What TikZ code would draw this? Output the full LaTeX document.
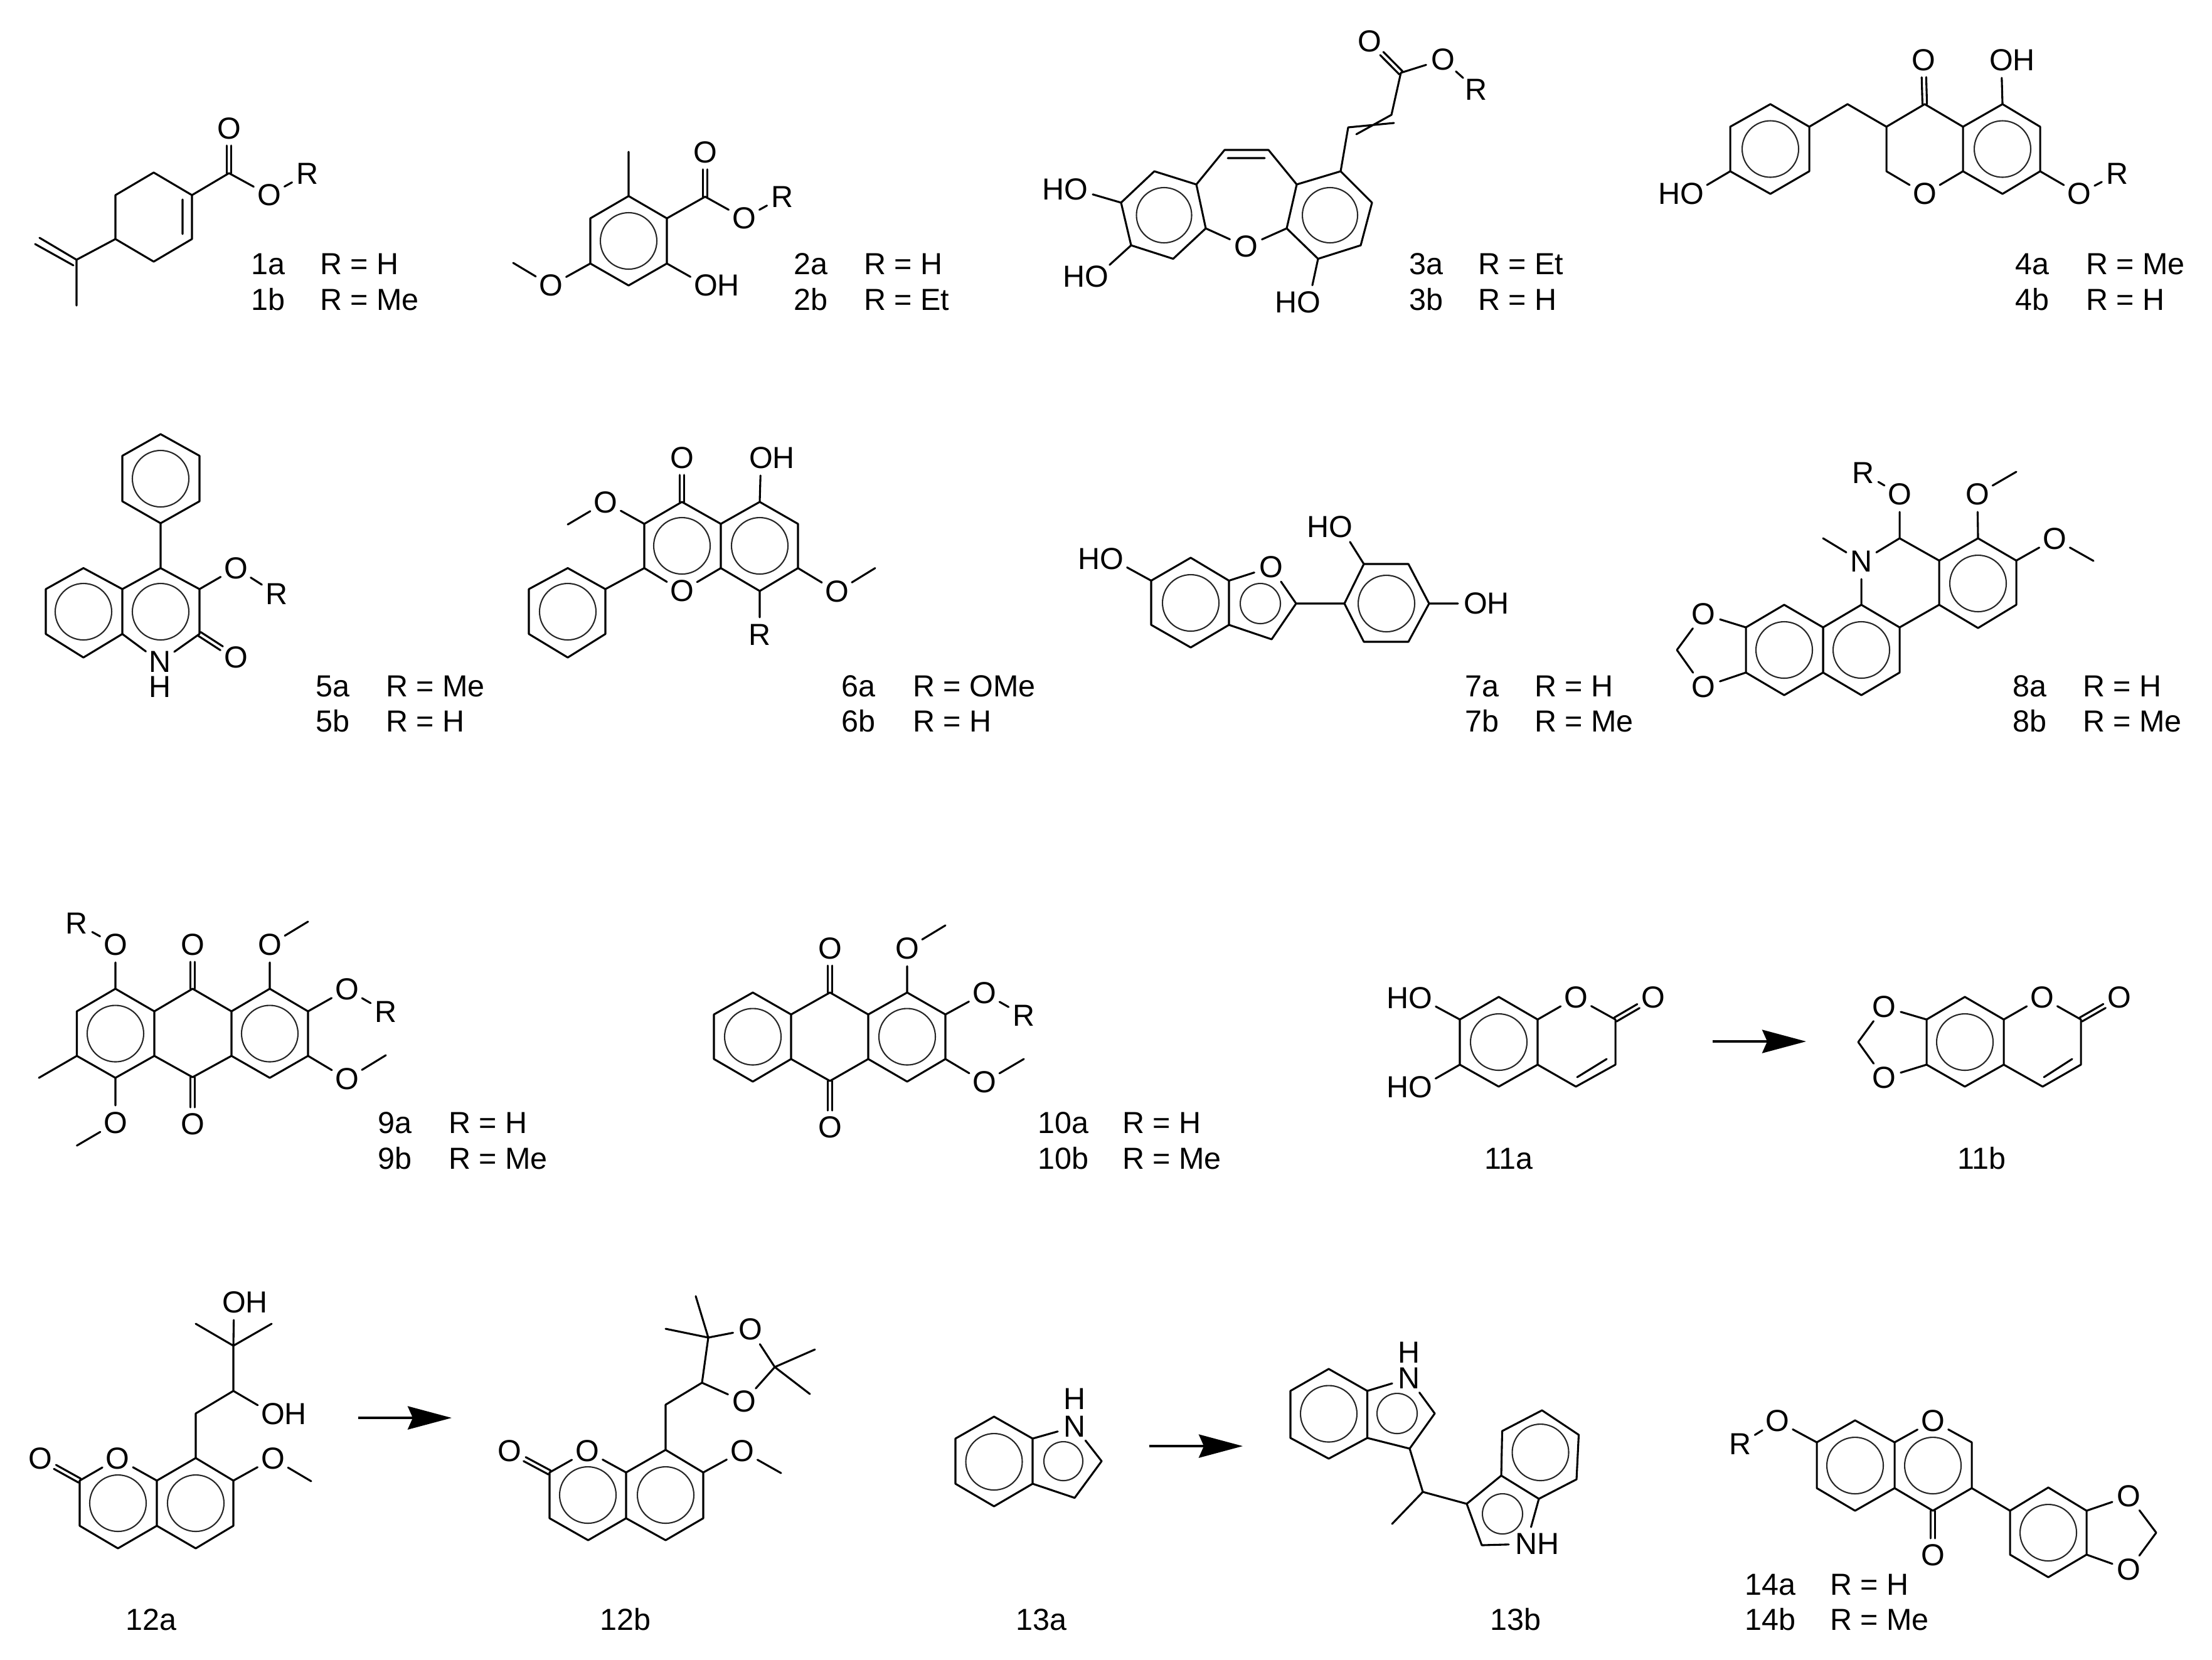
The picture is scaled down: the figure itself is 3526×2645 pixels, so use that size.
\documentclass[tikz,border=0pt]{standalone}
\usepackage{fontspec}
\setmainfont{Liberation Sans}
\usetikzlibrary{calc,arrows.meta}
\tikzset{
  bond/.style={line width=0.62pt,line join=round,line cap=round,black},
  aromc/.style={line width=0.42pt,black!85},
  atom/.style={circle,inner sep=0pt,minimum size=10.8pt,font=\fontsize{9.7}{11}\selectfont,text=black},
  lab/.style={anchor=base west,inner sep=0pt,xshift=-0.75pt,font=\fontsize{9.7}{11}\selectfont,text=black},
  labc/.style={anchor=base,inner sep=0pt,font=\fontsize{9.7}{11}\selectfont,text=black},
  rxn/.style={line width=0.8pt,black,-{Stealth[length=14pt,width=7.4pt,inset=1.6pt]}}
}
\newcommand\pts[2]{\foreach \n/\x/\y in {#2} {\coordinate (#1\n) at (\x,\y);}}
\newcommand\atom[4]{\node[atom] (#1) at (#2,#3) {#4};}
\newcommand\lab[4]{\node[lab] (#1) at (#2,#3) {#4};}
\newcommand\labc[4]{\node[labc] (#1) at (#2,#3) {#4};}
\newcommand\arom[2]{\draw[aromc] (#1) circle[radius=#2];}
\newcommand\dbl[2]{%
  \draw[bond,shorten >=5.4pt] ($(#1)!0.72pt!90:(#2)$) -- ($(#2)!0.72pt!-90:(#1)$);
  \draw[bond,shorten >=5.4pt] ($(#1)!0.72pt!-90:(#2)$) -- ($(#2)!0.72pt!90:(#1)$);}
\newcommand\hexr[6]{\draw[bond] (#1)--(#2)--(#3)--(#4)--(#5)--(#6)--cycle;}
\begin{document}
\begin{tikzpicture}[x=0.2pt,y=-0.2pt]
\useasboundingbox (0,0) rectangle (3526,2645);
\fill[white] (0,0) rectangle (3526,2645);

% ---------- 1
\pts{a}{a/245/275,b/306/311,c/306/381,d/245/417,e/184/381,f/184/311,g/365/276,h/122/414,i/122/487,j/63/379,k/117/423,l/56/389,m/291/318,n/291/373}
\atom{a1}{365}{205}{O}\atom{a2}{429}{311}{O}\atom{a3}{490}{277}{R}
\hexr{aa}{ab}{ac}{ad}{ae}{af}
\draw[bond] (am)--(an) (ab)--(ag) (ag)--(a2) (a2)--(a3) (ae)--(ah)--(ai) (ah)--(aj) (ak)--(al);
\dbl{ag}{a1}
\lab{t1a}{403}{437}{1a}\lab{t1b}{403}{494}{1b}\lab{u1a}{513}{437}{R = H}\lab{u1b}{513}{494}{R = Me}

% ---------- 2
\pts{b}{a/1002/312.5,b/1063/348,c/1063/420,d/1002/455,e/941/420,f/941/348,g/1002/384,h/1002/242,i/1124/313.5,j/818/419}
\atom{b1}{1124}{243}{O}\atom{b2}{1186}{348}{O}\atom{b3}{1247}{314}{R}\atom{b4}{878}{455}{O}\atom{b5}{1125}{455}{O\rlap{H}}
\hexr{ba}{bb}{bc}{bd}{be}{bf}\arom{bg}{45}
\draw[bond] (ba)--(bh) (bb)--(bi) (bi)--(b2) (b2)--(b3) (be)--(b4) (b4)--(bj) (bc)--(b5);
\dbl{bi}{b1}
\lab{t2a}{1268}{437}{2a}\lab{t2b}{1268}{494}{2b}\lab{u2a}{1380}{437}{R = H}\lab{u2b}{1380}{494}{R = Et}

% ---------- 3
\pts{c}{a/1840/273,b/1907/294,c/1922/364,d/1870/412.5,e/1803/391,f/1787/323,g/1855.5/343,h/2137/273,i/2187/323,j/2169/391,k/2101/412.5,l/2051/364,m/2067/294,n/2120/343,o/1952/239,p/2022/239,q/1957/252,r/2016/252,s/2149/203,t/2222/196,u/2162/214,v/2218/183,w/2233/116}
\atom{c1}{2183.5}{66}{O}\atom{c2}{2300}{95}{O}\atom{c3}{2353}{143}{R}\atom{c4}{1986}{393}{O}\atom{c5}{1715}{302}{\llap{H}O}\atom{c6}{1748}{441}{\llap{H}O}\atom{c7}{2086}{482}{\llap{H}O}
\hexr{ca}{cb}{cc}{cd}{ce}{cf}\hexr{ch}{ci}{cj}{ck}{cl}{cm}
\arom{cg}{44}\arom{cn}{44}
\draw[bond] (cb)--(co)--(cp)--(cm) (cq)--(cr) (cc)--(c4) (c4)--(cl) (ch)--(cs)--(ct) (cu)--(cv)--(cw) (cw)--(c2) (c2)--(c3) (cf)--(c5) (ce)--(c6) (ck)--(c7);
\dbl{cw}{c1}
\lab{t3a}{2249}{437}{3a}\lab{t3b}{2249}{494}{3b}\lab{u3a}{2359}{437}{R = Et}\lab{u3b}{2359}{494}{R = H}

% ---------- 4
\pts{d}{a/2822/166,b/2884/202,c/2884/273,d/2822/309,e/2758/273,f/2758/202,g/2822/237.5,h/2945/166,i/3007/202,j/3068/166,k/3129/202,l/3129/273,m/3007/273,n/3192/166,o/3252/202,p/3252/273,q/3192/309,r/3192/237.5}
\atom{d1}{3066}{96}{O}\atom{d2}{3190}{96}{O\rlap{H}}\atom{d3}{3068}{309}{O}\atom{d4}{3314}{309}{O}\atom{d5}{3375}{277}{R}\atom{d6}{2697}{309}{\llap{H}O}
\hexr{da}{db}{dc}{dd}{de}{df}\hexr{dk}{dn}{do}{dp}{dq}{dl}
\arom{dg}{45}\arom{dr}{45}
\draw[bond] (db)--(dh)--(di)--(dj)--(dk) (di)--(dm) (dm)--(d3) (d3)--(dl) (dn)--(d2) (dp)--(d4) (d4)--(d5) (de)--(d6);
\dbl{dj}{d1}
\lab{t4a}{3215}{437}{4a}\lab{t4b}{3215}{494}{4b}\lab{u4a}{3328}{437}{R = Me}\lab{u4b}{3328}{494}{R = H}

% ---------- 5
\pts{e}{a/256/692,b/318/726.5,c/318/799,d/256/834,e/195/799,f/195/726.5,g/256/763,h/256/905.5,i/318/939,j/318/1010.5,l/195/1010.5,m/195/939,n/256/975,o/133/905.5,p/73/939,q/73/1010.5,r/133/1048,s/133/975}
\atom{e1}{255}{1055}{N}\atom{e2}{255}{1095}{H}\atom{e3}{376}{1048}{O}\atom{e4}{376}{905.5}{O}\atom{e5}{441}{947}{R}
\hexr{ea}{eb}{ec}{ed}{ee}{ef}\hexr{eo}{ep}{eq}{er}{el}{em}
\arom{eg}{45}\arom{en}{45}\arom{es}{45}
\draw[bond] (ed)--(eh)--(ei)--(ej) (eh)--(em) (el)--(e1) (e1)--(ej) (ei)--(e4) (e4)--(e5);
\dbl{ej}{e3}
\lab{t5a}{506}{1110}{5a}\lab{t5b}{506}{1166}{5b}\lab{u5a}{618}{1110}{R = Me}\lab{u5b}{618}{1166}{R = H}

% ---------- 6
\pts{f}{a/905/905.5,b/965/939,c/965/1010.5,d/905/1048,e/843/1010.5,f/843/939,g/905/975,h/1027/905.5,i/1027/835,j/1087/800,k/1149/835,l/1149/905.5,m/1087/870,n/1211/800,o/1272/835,p/1272/905.5,q/1211/942,r/1211/870,s/905/836,t/1395/905.5}
\atom{f1}{1087}{730}{O}\atom{f2}{1213}{730}{O\rlap{H}}\atom{f3}{965}{800.5}{O}\atom{f4}{1334}{943}{O}\atom{f5}{1211}{1012}{R}\atom{f6}{1087}{942}{O}
\hexr{fa}{fb}{fc}{fd}{fe}{ff}\hexr{fk}{fn}{fo}{fp}{fq}{fl}
\arom{fg}{45}\arom{fm}{45}\arom{fr}{45}
\draw[bond] (fb)--(fh)--(fi)--(fj)--(fk) (fh)--(f6) (f6)--(fl) (fn)--(f2) (fi)--(f3) (f3)--(fs) (fp)--(f4) (f4)--(ft) (fq)--(f5);
\dbl{fj}{f1}
\lab{t6a}{1344}{1110}{6a}\lab{t6b}{1344}{1166}{6b}\lab{u6a}{1458}{1110}{R = OMe}\lab{u6b}{1458}{1166}{R = H}

% ---------- 7
\pts{g}{a/1898/889,b/1959/925.5,c/1959/996,d/1898/1032,e/1835/996,f/1835/925.5,g/1898/961,h/2066/962,i/2027/1019,j/2009/962,k/2143/962,l/2174/899,m/2245/899,n/2278/962,o/2245/1023,p/2174/1023,q/2210/962}
\atom{g1}{2026}{904}{O}\atom{g2}{2137}{840}{\llap{H}O}\atom{g3}{2352}{962}{O\rlap{H}}\atom{g4}{1772}{891}{\llap{H}O}
\hexr{ga}{gb}{gc}{gd}{ge}{gf}\hexr{gk}{gl}{gm}{gn}{go}{gp}
\arom{gg}{45}\arom{gj}{32}\arom{gq}{45}
\draw[bond] (gb)--(g1) (g1)--(gh)--(gi)--(gc) (gh)--(gk) (gl)--(g2) (gn)--(g3) (gf)--(g4);
\lab{t7a}{2338}{1110}{7a}\lab{t7b}{2338}{1166}{7b}\lab{u7a}{2449}{1110}{R = H}\lab{u7b}{2449}{1166}{R = Me}

% ---------- 8
\pts{h}{a/3153/858,b/3214/893.5,c/3214/964,d/3153/1001,e/3091/964,f/3091/893.5,g/3153/930,h/3028/858,i/2967/964,j/3028/1000,k/3028/1072,l/2967/1108,m/2906/1072,n/2906/1000,o/2967/1036,p/2844/964,q/2783/1000,r/2783/1072,s/2844/1108,t/2844/1036,u/2906/858,v/3214/752,w/3337/894,x/2673/1036}
\atom{h1}{2967}{895}{N}\atom{h2}{3028}{788}{O}\atom{h3}{2970}{754}{R}\atom{h4}{3152}{788}{O}\atom{h5}{3275}{859}{O}\atom{h6}{2715}{979}{O}\atom{h7}{2715}{1095}{O}
\hexr{ha}{hb}{hc}{hd}{he}{hf}\hexr{hi}{hj}{hk}{hl}{hm}{hn}\hexr{hn}{hm}{hs}{hr}{hq}{hp}
\arom{hg}{45}\arom{ho}{45}\arom{ht}{45}
\draw[bond] (hf)--(hh) (he)--(hj) (hh)--(h1) (h1)--(hi) (h1)--(hu) (hh)--(h2) (h2)--(h3) (ha)--(h4) (h4)--(hv) (hb)--(h5) (h5)--(hw) (hq)--(h6) (h6)--(hx) (hx)--(h7) (h7)--(hr);
\lab{t8a}{3211}{1110}{8a}\lab{t8b}{3211}{1166}{8b}\lab{u8a}{3323}{1110}{R = H}\lab{u8b}{3323}{1166}{R = Me}

% ---------- 9
\pts{i}{a/184/1576,b/246/1612,c/246/1683,d/184/1718,e/122.5/1683,f/122.5/1612,g/184/1647.5,h/307/1576,i/369/1612,j/369/1683,k/307/1717,l/430/1576,m/491/1612,n/491/1683,o/430/1718,p/430/1647.5,q/491/1469,r/615/1682,s/122.5/1826,t/62/1718}
\atom{i1}{184}{1506}{O}\atom{i2}{122.5}{1472}{R}\atom{i3}{307}{1506}{O}\atom{i4}{430}{1506}{O}\atom{i5}{553}{1577}{O}\atom{i6}{615}{1613}{R}\atom{i7}{553}{1720}{O}\atom{i8}{307}{1792}{O}\atom{i9}{184}{1790}{O}
\hexr{ia}{ib}{ic}{id}{ie}{if}\hexr{il}{im}{in}{io}{ij}{ii}
\draw[bond] (ib)--(ih)--(ii) (ic)--(ik)--(ij) (ia)--(i1) (i1)--(i2) (il)--(i4) (i4)--(iq) (im)--(i5) (i5)--(i6) (in)--(i7) (i7)--(ir) (id)--(i9) (i9)--(is) (ie)--(it);
\arom{ig}{45}\arom{ip}{45}
\dbl{ih}{i3}\dbl{ik}{i8}
\lab{t9a}{605}{1806}{9a}\lab{t9b}{605}{1863}{9b}\lab{u9a}{718}{1806}{R = H}\lab{u9b}{718}{1863}{R = Me}

% ---------- 10
\pts{j}{a/1200/1582,b/1261/1617,c/1261/1688,d/1200/1724,e/1138/1688,f/1138/1617,g/1200/1652.5,h/1323/1582,i/1384/1617,j/1384/1688,k/1323/1723,l/1446/1582,m/1507/1617,n/1507/1688,o/1446/1724,p/1446/1652.5,q/1507/1475,r/1632/1688}
\atom{j1}{1323}{1512}{O}\atom{j2}{1446}{1512}{O}\atom{j3}{1569}{1583}{O}\atom{j4}{1632}{1619}{R}\atom{j5}{1569}{1725}{O}\atom{j6}{1323}{1797}{O}
\hexr{ja}{jb}{jc}{jd}{je}{jf}\hexr{jl}{jm}{jn}{jo}{jj}{ji}
\draw[bond] (jb)--(jh)--(ji) (jc)--(jk)--(jj) (jl)--(j2) (j2)--(jq) (jm)--(j3) (j3)--(j4) (jn)--(j5) (j5)--(jr);
\arom{jg}{45}\arom{jp}{45}
\dbl{jh}{j1}\dbl{jk}{j6}
\lab{t10a}{1657}{1806}{10a}\lab{t10b}{1657}{1863}{10b}\lab{u10a}{1792}{1806}{R = H}\lab{u10b}{1792}{1863}{R = Me}

% ---------- 11a
\pts{k}{a/2389/1589,b/2451/1625,c/2451/1697,d/2389/1732,e/2327/1697,f/2327/1625,g/2389/1661,h/2575/1625,i/2575/1697,j/2512/1732,k/2561/1688,l/2514/1717}
\atom{k1}{2512}{1590}{O}\atom{k2}{2635}{1590}{O}\atom{k3}{2264}{1591}{\llap{H}O}\atom{k4}{2264}{1733}{\llap{H}O}
\hexr{ka}{kb}{kc}{kd}{ke}{kf}\arom{kg}{45}
\draw[bond] (kb)--(k1) (k1)--(kh)--(ki)--(kj)--(kc) (kk)--(kl) (kf)--(k3) (ke)--(k4);
\dbl{kh}{k2}
\labc{t11a}{2405}{1863}{11a}

% ---------- arrow 11
\coordinate (r1s) at (2730,1660);\coordinate (r1e) at (2879,1660);
\draw[rxn] (r1s)--(r1e);

% ---------- 11b
\pts{l}{a/3132/1589,b/3194/1625,c/3194/1697,d/3132/1732,e/3071/1697,f/3071/1625,g/3132/1661,h/3317/1625,i/3317/1697,j/3256/1732,k/3303/1688,l/3258/1717,m/2962/1661}
\atom{l1}{3255}{1590}{O}\atom{l2}{3378}{1590}{O}\atom{l3}{3003}{1605}{O}\atom{l4}{3003}{1718}{O}
\hexr{la}{lb}{lc}{ld}{le}{lf}\arom{lg}{45}
\draw[bond] (lb)--(l1) (l1)--(lh)--(li)--(lj)--(lc) (lk)--(ll) (lf)--(l3) (l3)--(lm) (lm)--(l4) (l4)--(le);
\dbl{lh}{l2}
\labc{t11b}{3159}{1863}{11b}

% ---------- 12a
\pts{m}{a/312/2324,b/372/2360,c/372/2432,d/312/2468,e/250/2432,f/250/2360,g/312/2396,h/127/2360,i/127/2432,j/188/2468,k/188/2396,l/496/2361,m/312/2253,n/372/2217,o/372/2145,p/312/2110,q/433/2110}
\atom{m1}{187.5}{2325}{O}\atom{m2}{64}{2325}{O}\atom{m3}{435}{2325}{O}\atom{m4}{435}{2254}{O\rlap{H}}\atom{m5}{373}{2076}{O\rlap{H}}
\hexr{ma}{mb}{mc}{md}{me}{mf}\arom{mg}{45}\arom{mk}{45}
\draw[bond] (mf)--(m1) (m1)--(mh)--(mi)--(mj)--(me) (mb)--(m3) (m3)--(ml) (ma)--(mm)--(mn)--(mo) (mn)--(m4) (mp)--(mo)--(mq) (mo)--(m5);
\dbl{mh}{m2}
\labc{t12a}{241}{2598}{12a}

% ---------- arrow 12
\coordinate (r2s) at (571,2260);\coordinate (r2e) at (720,2260);
\draw[rxn] (r2s)--(r2e);

% ---------- 12b
\pts{n}{a/1061/2311,b/1121/2347,c/1121/2420,d/1061/2455,e/998/2420,f/998/2347,g/1061/2383,h/876/2347,i/876/2420,j/937.5/2455,k/937/2383,l/1245/2348,m/1061/2239,n/1119/2204,o/1129/2132,p/1235/2179,q/1109/2066,r/1061/2118,s/1299/2151,t/1291/2222}
\atom{n1}{936}{2313}{O}\atom{n2}{812.5}{2313}{O}\atom{n3}{1183}{2313}{O}\atom{n4}{1196}{2119}{O}\atom{n5}{1186}{2234}{O}
\hexr{na}{nb}{nc}{nd}{ne}{nf}\arom{ng}{45}\arom{nk}{45}
\draw[bond] (nf)--(n1) (n1)--(nh)--(ni)--(nj)--(ne) (nb)--(n3) (n3)--(nl) (na)--(nm)--(nn)--(no) (no)--(n4) (n4)--(np) (np)--(n5) (n5)--(nn) (no)--(nq) (no)--(nr) (np)--(ns) (np)--(nt);
\dbl{nh}{n2}
\labc{t12b}{997}{2598}{12b}

% ---------- 13a
\pts{o}{a/1584.5/2258,b/1646/2293,c/1646/2365,d/1584.5/2401,e/1523/2365,f/1523/2293,g/1584.5/2330,h/1756/2329,i/1713/2387.5,j/1695/2329}
\atom{o1}{1713}{2274}{N}\atom{o2}{1713}{2230}{H}
\hexr{oa}{ob}{oc}{od}{oe}{of}\arom{og}{45}\arom{oj}{31}
\draw[bond] (ob)--(o1) (o1)--(oh)--(oi)--(oc);
\labc{t13a}{1660}{2598}{13a}

% ---------- arrow 13
\coordinate (r3s) at (1832,2305);\coordinate (r3e) at (1981,2305);
\draw[rxn] (r3s)--(r3e);

% ---------- 13b
\pts{p}{a/2118/2182,b/2179.5/2217,c/2179.5/2292,d/2118/2325,e/2057/2292,f/2057/2217,g/2118/2253.5,h/2287/2253,i/2247/2309,j/2227/2253,k/2268/2378,l/2219/2429,m/2338/2397,n/2393/2352,o/2453/2389,q/2362/2463,r/2395/2413,s/2394.5/2281,t/2458/2248,u/2516.5/2287,v/2513/2358,w/2455.5/2315}
\atom{p1}{2246}{2197}{N}\atom{p2}{2246}{2156}{H}\atom{p3}{2433}{2461}{N\rlap{H}}
\hexr{pa}{pb}{pc}{pd}{pe}{pf}\hexr{pn}{ps}{pt}{pu}{pv}{po}
\arom{pg}{45}\arom{pj}{32}\arom{pr}{32}\arom{pw}{45}
\draw[bond] (pb)--(p1) (p1)--(ph)--(pi)--(pc) (pi)--(pk)--(pl) (pk)--(pm)--(pn) (po)--(p3) (p3)--(pq)--(pm);
\labc{t13b}{2416}{2598}{13b}

% ---------- 14
\pts{q}{a/2957/2264,b/3020/2299,c/3020/2372,d/2957/2408,e/2896/2372,f/2896/2299,g/2957/2336,h/3143/2299,i/3143/2372,j/3081/2408,k/3081/2336,l/3204/2408,m/3265/2371,n/3326/2408,o/3326/2478,p/3265/2514,q/3204/2478,r/3265/2443,s/3437/2443}
\atom{q1}{3081}{2265}{O}\atom{q2}{3081}{2479}{O}\atom{q3}{2833}{2265}{O}\atom{q4}{2773.5}{2302}{R}\atom{q5}{3393.5}{2385}{O}\atom{q6}{3393.5}{2502}{O}
\hexr{qa}{qb}{qc}{qd}{qe}{qf}\hexr{ql}{qm}{qn}{qo}{qp}{qq}
\arom{qg}{45}\arom{qk}{45}\arom{qr}{45}
\draw[bond] (qb)--(q1) (q1)--(qh)--(qi)--(qj)--(qc) (qi)--(ql) (qf)--(q3) (q3)--(q4) (qn)--(q5) (q5)--(qs) (qs)--(q6) (q6)--(qo);
\dbl{qj}{q2}
\lab{t14a}{2784}{2542}{14a}\lab{t14b}{2784}{2598}{14b}\lab{u14a}{2920}{2542}{R = H}\lab{u14b}{2920}{2598}{R = Me}
\end{tikzpicture}
\end{document}
